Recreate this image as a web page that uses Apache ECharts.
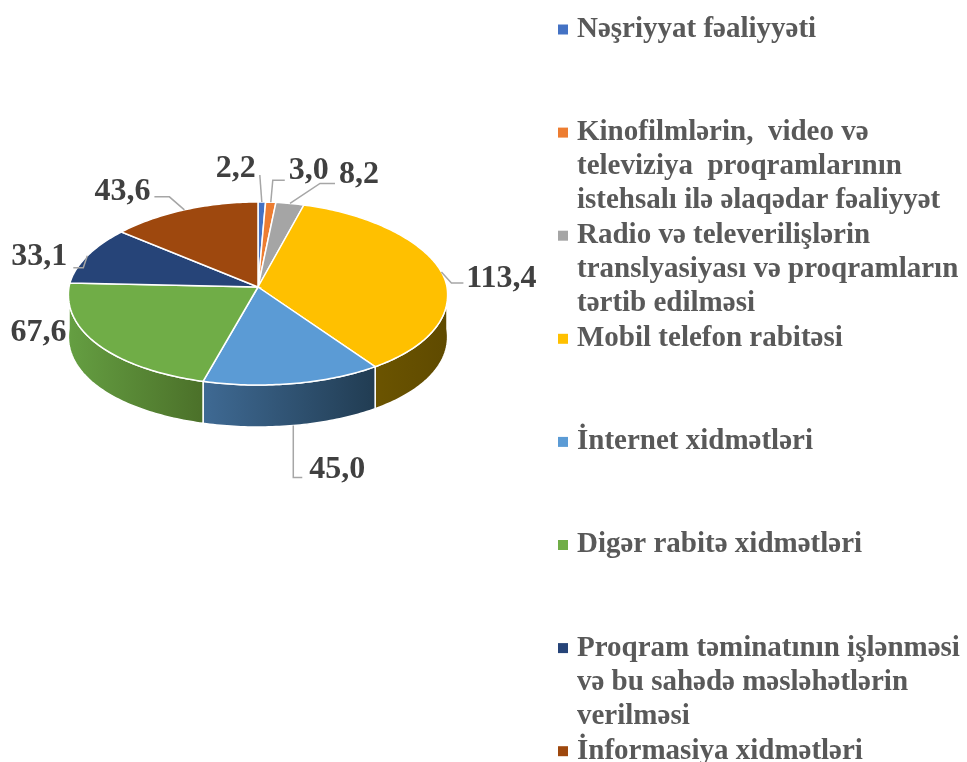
<!DOCTYPE html>
<html><head><meta charset="utf-8">
<style>html,body{margin:0;padding:0;background:#fff}#c{width:967px;height:762px}</style>
<script src="https://cdn.jsdelivr.net/npm/echarts@6/dist/echarts.min.js"></script>
</head><body><div id="c"></div>
<script>
const categories = [
  "Nəşriyyat fəaliyyəti",
  "Kinofilmlərin,  video və\nteleviziya  proqramlarının\nistehsalı ilə əlaqədar fəaliyyət",
  "Radio və televerilişlərin\ntranslyasiyası və proqramların\ntərtib edilməsi",
  "Mobil telefon rabitəsi",
  "İnternet xidmətləri",
  "Digər rabitə xidmətləri",
  "Proqram təminatının işlənməsi\nvə bu sahədə məsləhətlərin\nverilməsi",
  "İnformasiya xidmətləri"
];
const values = [2.2, 3.0, 8.2, 113.4, 45.0, 67.6, 33.1, 43.6];
const valueLabels = ["2,2", "3,0", "8,2", "113,4", "45,0", "67,6", "33,1", "43,6"];
const colors = ["#4472C4", "#ED7D31", "#A5A5A5", "#FFC000", "#5B9BD5", "#70AD47", "#264478", "#9E480E"];
// side-wall shading, left to right
const wallShades = [null, null, null, ["#6B5400", "#5F4A00"], ["#3F6A94", "#213C52"], ["#659F42", "#4B7029"], null, null];
// label placement relative to each slice's outer edge midpoint: [label dx, dy, knee dx, dy, line end dx, dy]
const labelLayout = [
  [-26, -33.5, -2, -27, -2, -27],
  [38, -31, 2, -22, 14, -22],
  [69, -28.5, 30, -20, 45, -20],
  [60, 6.5, 10, 11, 22, 11],
  [44, 44, 0, 52, 9, 52],
  [-59, -11.5, null, null, null, null],
  [-48, 1, -4, 12, -14, 12],
  [-62, -18.5, -15, -13, -30, -13]
];
const geom = { cx: 258, cy: 287, rx: 189, ryBack: 85, ryFront: 98, depth: 42, perspective: 0.08 };
const total = values.reduce((a, b) => a + b, 0);
const rad = d => d * Math.PI / 180;
function edge(deg, drop) {
  const c = Math.cos(rad(deg));
  return [geom.cx + geom.rx * Math.sin(rad(deg)) * (1 - geom.perspective * c),
          geom.cy - (c > 0 ? geom.ryBack : geom.ryFront) * c + (drop || 0)];
}
function arc(a, b, drop) {
  const pts = [], n = Math.max(2, Math.ceil(Math.abs(b - a)));
  for (let i = 0; i <= n; i++) pts.push(edge(a + (b - a) * i / n, drop));
  return pts;
}
function makeRender(idx) {
  return function (params, api) {
    const v = api.value(0);
    let before = 0;
    for (let i = 0; i < idx; i++) before += values[i];
    const a0 = before / total * 360, a1 = (before + v) / total * 360, mid = (a0 + a1) / 2;
    const children = [];
    const w0 = Math.max(a0, 90), w1 = Math.min(a1, 270);
    if (wallShades[idx] && w1 > w0) {
      const pts = arc(w0, w1, 0).concat(arc(w1, w0, geom.depth));
      children.push({ type: 'polygon', shape: { points: pts }, style: {
        fill: { type: 'linear', x: 0, y: 0, x2: 1, y2: 0, colorStops: [
          { offset: 0, color: wallShades[idx][0] },
          { offset: 1, color: wallShades[idx][1] }] },
        stroke: '#fff', lineWidth: 1.5 } });
    }
    children.push({ type: 'polygon', shape: { points: [[geom.cx, geom.cy]].concat(arc(a0, a1, 0)) },
      style: { fill: colors[idx], stroke: '#fff', lineWidth: 1.5 } });
    const anchor = edge(mid, idx === 4 ? geom.depth : 0);
    const L = labelLayout[idx];
    if (L[2] !== null) {
      children.push({ type: 'polyline', shape: { points: [anchor, [anchor[0] + L[2], anchor[1] + L[3]], [anchor[0] + L[4], anchor[1] + L[5]]] },
        style: { fill: null, stroke: '#A6A6A6', lineWidth: 1.5 }, z2: 5 });
    }
    children.push({ type: 'text', x: anchor[0] + L[0], y: anchor[1] + L[1], z2: 6, style: {
      text: valueLabels[idx], fill: '#404040', align: 'center', verticalAlign: 'middle',
      font: 'bold 32px "Liberation Serif"' } });
    return { type: 'group', children };
  };
}
const chart = echarts.init(document.getElementById('c'), null, { renderer: 'canvas' });
chart.setOption({
  animation: false,
  backgroundColor: '#fff',
  legend: {
    orient: 'vertical', left: 558, top: -55.5, height: 1100, padding: 0,
    itemWidth: 10, itemHeight: 10, itemGap: -66.9, icon: 'rect', selectedMode: false,
    data: categories,
    formatter: n => {
      const lines = n.split('\n');
      while (lines.length < 3) lines.push(' ');
      return ' \n \n' + lines.join('\n');
    },
    textStyle: { fontFamily: 'Liberation Serif', fontWeight: 'bold', fontSize: 29, lineHeight: 34, color: '#595959', padding: [0, 0, 0, 4] }
  },
  series: categories.map((name, i) => ({
    type: 'custom', name, coordinateSystem: 'none',
    itemStyle: { color: colors[i] },
    renderItem: makeRender(i),
    data: [[values[i]]], silent: true
  }))
});
</script></body></html>
